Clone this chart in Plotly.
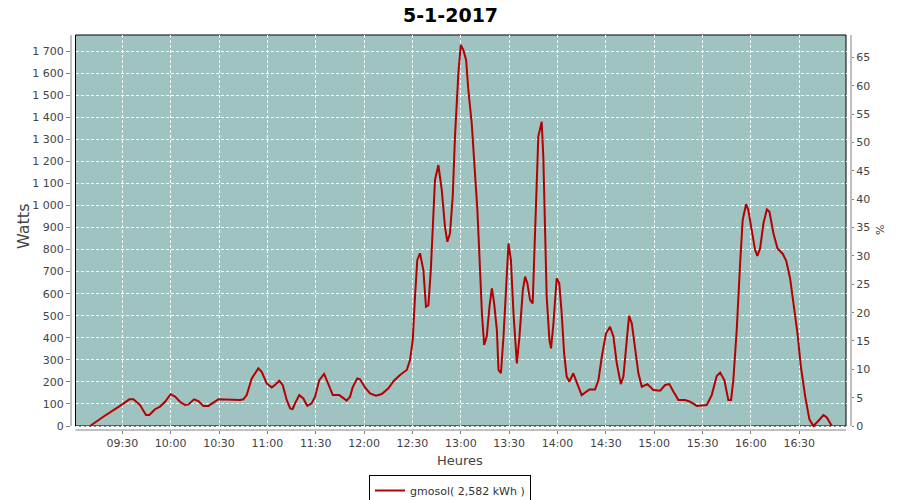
import plotly.graph_objects as go
import pandas as pd

# ---- data ----
day = "2017-01-05"
times = [
    "09:10:00", "09:18:12", "09:28:36", "09:34:24", "09:36:54", "09:41:00", "09:44:42", "09:46:48",
    "09:50:18", "09:53:24", "09:56:30", "10:00:00", "10:02:42", "10:05:48", "10:08:54", "10:11:00",
    "10:14:30", "10:17:12", "10:20:18", "10:23:24", "10:26:30", "10:29:36", "10:43:00", "10:45:06",
    "10:47:12", "10:50:18", "10:54:24", "10:56:30", "10:59:36", "11:02:42", "11:04:42", "11:07:24",
    "11:09:30", "11:12:00", "11:14:06", "11:15:42", "11:17:12", "11:19:48", "11:22:18", "11:24:48",
    "11:27:30", "11:29:36", "11:32:12", "11:35:12", "11:37:12", "11:40:36", "11:44:36", "11:46:42",
    "11:49:12", "11:51:18", "11:52:54", "11:55:48", "11:57:30", "12:00:36", "12:03:42", "12:07:24",
    "12:11:00", "12:15:06", "12:18:30", "12:22:18", "12:26:30", "12:28:30", "12:30:12", "12:31:36",
    "12:33:00", "12:34:42", "12:36:48", "12:38:24", "12:39:54", "12:41:24", "12:42:36", "12:44:00",
    "12:46:06", "12:48:12", "12:50:12", "12:51:42", "12:53:18", "12:55:00", "12:56:24", "12:58:30",
    "13:00:00", "13:01:36", "13:03:18", "13:04:42", "13:06:48", "13:08:54", "13:10:18", "13:11:36",
    "13:13:06", "13:14:30", "13:16:06", "13:17:48", "13:19:18", "13:20:42", "13:22:24", "13:23:24",
    "13:24:54", "13:26:30", "13:28:06", "13:29:36", "13:31:06", "13:32:42", "13:34:48", "13:36:24",
    "13:38:30", "13:39:54", "13:41:18", "13:43:00", "13:44:36", "13:45:30", "13:46:42", "13:48:06",
    "13:50:12", "13:51:12", "13:52:18", "13:53:18", "13:55:00", "13:56:00", "13:57:30", "13:59:30",
    "14:01:06", "14:02:36", "14:04:06", "14:05:42", "14:07:24", "14:09:48", "14:15:00", "14:19:48",
    "14:23:18", "14:25:24", "14:27:30", "14:30:06", "14:32:36", "14:34:42", "14:36:48", "14:39:18",
    "14:40:54", "14:42:36", "14:44:24", "14:46:06", "14:48:06", "14:50:12", "14:52:18", "14:55:48",
    "14:59:30", "15:03:42", "15:06:48", "15:09:24", "15:11:54", "15:15:00", "15:19:12", "15:22:18",
    "15:26:24", "15:32:36", "15:35:42", "15:38:48", "15:40:54", "15:43:30", "15:46:00", "15:47:42",
    "15:49:06", "15:51:12", "15:53:18", "15:54:54", "15:57:00", "15:58:24", "16:00:30", "16:02:36",
    "16:04:00", "16:05:42", "16:07:48", "16:09:54", "16:11:30", "16:14:00", "16:16:30", "16:19:48",
    "16:21:54", "16:24:18", "16:26:24", "16:28:54", "16:31:00", "16:33:42", "16:36:18", "16:38:48",
    "16:41:54", "16:45:00", "16:47:06", "16:49:12", "16:50:12",
]
watts = [
    0, 42, 91, 121, 121, 95, 50, 50,
    76, 88, 110, 144, 133, 110, 95, 98,
    121, 113, 91, 91, 106, 121, 118, 121,
    140, 216, 261, 246, 193, 175, 186, 205,
    186, 118, 80, 77, 103, 140, 125, 91,
    103, 133, 208, 236, 201, 140, 140, 130,
    115, 133, 175, 216, 212, 175, 148, 137,
    145, 171, 205, 231, 254, 299, 390, 586,
    752, 783, 707, 541, 548, 707, 888, 1115,
    1183, 1070, 903, 835, 873, 1040, 1312, 1599,
    1727, 1704, 1659, 1523, 1372, 1160, 979, 767,
    511, 367, 405, 541, 624, 556, 435, 254,
    239, 405, 647, 828, 752, 511, 284, 405,
    616, 677, 647, 571, 556, 767, 1040, 1312,
    1379, 1221, 888, 586, 390, 352, 465, 670,
    647, 511, 330, 224, 201, 239, 140, 166,
    166, 208, 314, 420, 450, 405, 284, 190,
    224, 359, 499, 465, 345, 239, 178, 190,
    163, 160, 186, 190, 156, 118, 118, 110,
    91, 95, 140, 227, 242, 208, 118, 118,
    208, 435, 737, 934, 1006, 979, 888, 798,
    771, 805, 919, 982, 971, 873, 805, 780,
    749, 670, 556, 420, 269, 133, 30, 0,
    24, 50, 39, 12, 0,
]
series_name = "gmosol( 2,582 kWh )"
title_text = "5-1-2017"

time_tick_labels = ["09:30", "10:00", "10:30", "11:00", "11:30", "12:00", "12:30", "13:00",
                    "13:30", "14:00", "14:30", "15:00", "15:30", "16:00", "16:30"]
watt_ticks = [0, 100, 200, 300, 400, 500, 600, 700, 800, 900, 1000, 1100, 1200, 1300, 1400, 1500, 1600, 1700]
watt_tick_labels = ["0", "100", "200", "300", "400", "500", "600", "700", "800", "900",
                    "1 000", "1 100", "1 200", "1 300", "1 400", "1 500", "1 600", "1 700"]
pct_ticks = [0, 5, 10, 15, 20, 25, 30, 35, 40, 45, 50, 55, 60, 65]

# ---- layout geometry (pixels) ----
W, H = 900, 500
ML, MR, MT, MB = 71, 49, 35, 70
pw, ph = W - ML - MR, H - MT - MB

def px(x):
    return (x - ML) / pw

def py(y):
    return (H - MB - y) / ph

x_dt = [pd.Timestamp(f"{day} {t}") for t in times]
x_ticks = [pd.Timestamp(f"{day} {t}") for t in time_tick_labels]
base = pd.Timestamp(f"{day} 09:00:00")
x_range = [base + pd.Timedelta(minutes=-1.83), base + pd.Timedelta(minutes=482.1)]

fig = go.Figure()
fig.add_trace(go.Scatter(
    x=x_dt, y=watts, mode="lines", name=series_name,
    line=dict(color="#B40000", width=2),
))
fig.add_trace(go.Scatter(x=[x_dt[0]], y=[None], yaxis="y2", showlegend=False,
                         hoverinfo="skip", mode="lines"))

tickfont = dict(family="DejaVu Sans", size=11, color="#444444")
grid = dict(showgrid=True, gridcolor="white", gridwidth=1, griddash="3px,2px")

fig.update_layout(
    width=W, height=H,
    margin=dict(l=ML, r=MR, t=MT, b=MB, pad=0, autoexpand=False),
    paper_bgcolor="white", plot_bgcolor="white",
    font=dict(family="DejaVu Sans", color="#444444"),
    showlegend=True,
    legend=dict(
        xref="paper", yref="paper", x=px(450), y=py(475),
        xanchor="center", yanchor="top", orientation="h",
        bordercolor="black", borderwidth=1, bgcolor="white",
        font=dict(family="DejaVu Sans", size=11, color="#333333"),
        itemwidth=30, tracegroupgap=0,
    ),
    xaxis=dict(
        type="date", range=x_range,
        tickvals=x_ticks, ticktext=time_tick_labels,
        ticks="outside", ticklen=3, tickcolor="#808080", tickfont=tickfont,
        showline=False, zeroline=False, automargin=False, **grid,
    ),
    yaxis=dict(
        range=[-4 / (375 / 1700), (426 - 35) / (375 / 1700)],
        tickvals=watt_ticks, ticktext=watt_tick_labels,
        ticks="outside", ticklen=4, tickcolor="#808080", tickfont=tickfont,
        showline=False, zeroline=False, automargin=False, **grid,
    ),
    yaxis2=dict(
        overlaying="y", side="right", anchor="x",
        range=[-4 / (368.4 / 65), (426 - 35) / (368.4 / 65)],
        tickvals=pct_ticks, ticks="outside", ticklen=2, tickcolor="#808080",
        tickfont=tickfont, showgrid=False, zeroline=False, showline=False,
        automargin=False,
    ),
)

shapes = [
    # plot background with black border
    dict(type="rect", xref="paper", yref="paper", x0=px(75.5), x1=px(846), y0=py(426), y1=py(35),
         fillcolor="#9FC3C1", line=dict(color="black", width=1), layer="below"),
    # offset axis lines
    dict(type="line", xref="paper", yref="paper", x0=px(71), x1=px(71), y0=py(426), y1=py(35),
         line=dict(color="#808080", width=1)),
    dict(type="line", xref="paper", yref="paper", x0=px(851), x1=px(851), y0=py(426), y1=py(35),
         line=dict(color="#808080", width=1)),
    dict(type="line", xref="paper", yref="paper", x0=px(75.5), x1=px(846), y0=py(430), y1=py(430),
         line=dict(color="#808080", width=1)),
]
fig.update_layout(shapes=shapes)

annotations = [
    dict(text=f"<b>{title_text}</b>", xref="paper", yref="paper", x=px(450), y=py(15),
         showarrow=False, font=dict(family="DejaVu Sans", size=19, color="black"),
         xanchor="center", yanchor="middle"),
    dict(text="Heures", xref="paper", yref="paper", x=px(460), y=py(460),
         showarrow=False, font=dict(family="DejaVu Sans", size=13, color="#444444"),
         xanchor="center", yanchor="middle"),
    dict(text="Watts", xref="paper", yref="paper", x=px(23), y=py(227), textangle=-90,
         showarrow=False, font=dict(family="DejaVu Sans", size=16, color="#444444"),
         xanchor="center", yanchor="middle"),
    dict(text="%", xref="paper", yref="paper", x=px(880), y=py(230), textangle=-90,
         showarrow=False, font=dict(family="DejaVu Sans", size=11, color="#444444"),
         xanchor="center", yanchor="middle"),
]
fig.update_layout(annotations=annotations)

fig.write_html("out.html", config={"displayModeBar": False},
               post_script="document.body.style.margin='0';")
